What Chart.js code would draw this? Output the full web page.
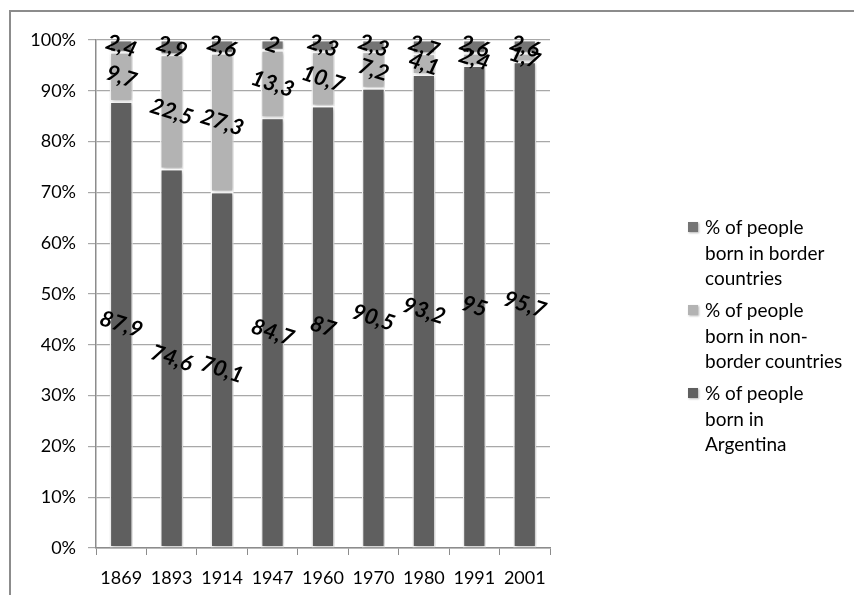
<!DOCTYPE html>
<html>
<head>
<meta charset="utf-8">
<script src="https://cdn.jsdelivr.net/npm/chart.js@4/dist/chart.umd.min.js"></script>
<style>
  body { margin: 0; background: #fff; overflow: hidden; font-family: Lato, "Open Sans", sans-serif; }
  #wrap { position: relative; width: 854px; height: 595px; }
  #frame { position: absolute; left: 9px; top: 10px; width: 900px; height: 700px; border: 2px solid #8c8c8c; }
  #chart { position: absolute; left: 0; top: 0; }
  #legend { position: absolute; left: 688px; top: 214px; font-size: 19px; color: #000; }
  .item { position: relative; padding-left: 17px; line-height: 25.5px; margin-bottom: 6.5px; white-space: nowrap; }
  .sw { position: absolute; left: 0; top: 8px; width: 10px; height: 10px; box-shadow: 1px 1px 2px rgba(0,0,0,0.3); }
</style>
</head>
<body>
<div id="wrap">
  <div id="frame"></div>
  <canvas id="chart" width="854" height="595"></canvas>
  <div id="legend"></div>
</div>
<script>
// 数据
var years = ['1869', '1893', '1914', '1947', '1960', '1970', '1980', '1991', '2001'];
var bornArgentina = [87.9, 74.6, 70.1, 84.7, 87, 90.5, 93.2, 95, 95.7];
var bornNonBorder = [9.7, 22.5, 27.3, 13.3, 10.7, 7.2, 4.1, 2.4, 1.7];
var bornBorder = [2.4, 2.9, 2.6, 2, 2.3, 2.3, 2.7, 2.6, 2.6];

var seriesNames = [
    ['% of people', 'born in border', 'countries'],
    ['% of people', 'born in non-', 'border countries'],
    ['% of people', 'born in', 'Argentina']
];
var colArgentina = '#5f5f5f';
var colNonBorder = '#b3b3b3';
var colBorder = '#747474';

// 柱子阴影
var barShadow = {
    id: 'barShadow',
    beforeDatasetsDraw: function(chart) {
        var ctx = chart.ctx;
        ctx.save();
        ctx.shadowColor = 'rgba(0,0,0,0.28)';
        ctx.shadowBlur = 4;
        ctx.shadowOffsetX = 1;
        ctx.shadowOffsetY = 1;
    },
    afterDatasetsDraw: function(chart) {
        chart.ctx.restore();
    }
};

// 数据标签 (倾斜)
var valueLabels = {
    id: 'valueLabels',
    afterDraw: function(chart) {
        var ctx = chart.ctx;
        ctx.save();
        ctx.font = 'italic bold 22px Lato, sans-serif';
        ctx.fillStyle = '#000';
        ctx.textAlign = 'center';
        ctx.textBaseline = 'middle';
        chart.data.datasets.forEach(function(ds, i) {
            var meta = chart.getDatasetMeta(i);
            meta.data.forEach(function(el, j) {
                var p = el.getProps(['x', 'y', 'base'], true);
                var cy = (p.y + p.base) / 2;
                ctx.save();
                ctx.translate(p.x, cy);
                ctx.rotate(18 * Math.PI / 180);
                ctx.fillText(String(ds.data[j]).replace('.', ','), 0, 0);
                ctx.restore();
            });
        });
        ctx.restore();
    }
};

var chart = new Chart(document.getElementById('chart').getContext('2d'), {
    type: 'bar',
    data: {
        labels: years,
        datasets: [
            { label: seriesNames[2].join(' '), data: bornArgentina, backgroundColor: colArgentina },
            { label: seriesNames[1].join(' '), data: bornNonBorder, backgroundColor: colNonBorder },
            { label: seriesNames[0].join(' '), data: bornBorder, backgroundColor: colBorder }
        ]
    },
    options: {
        responsive: false,
        animation: false,
        layout: { padding: { left: 0, right: 304, top: 40, bottom: 4 } },
        datasets: {
            bar: { barPercentage: 0.46, categoryPercentage: 1, borderColor: '#fff', borderWidth: 1.5, borderSkipped: false }
        },
        plugins: {
            legend: { display: false },
            tooltip: { enabled: false }
        },
        scales: {
            x: {
                stacked: true,
                grid: { offset: true, drawOnChartArea: false, drawTicks: true, tickLength: 7, color: '#8c8c8c' },
                border: { color: '#8c8c8c', width: 1.5 },
                ticks: { color: '#000', font: { family: 'Lato', size: 18 }, padding: 12 },
                afterFit: function(s) { s.height = 43; }
            },
            y: {
                stacked: true,
                min: 0,
                max: 100,
                ticks: { stepSize: 10, color: '#000', font: { family: 'Lato', size: 18 }, padding: 12,
                    callback: function(v) { return v + '%'; } },
                grid: { color: '#a8a8a8', tickLength: 8, lineWidth: 1.2 },
                border: { color: '#8c8c8c', width: 1.5 },
                afterFit: function(s) { s.width = 96; }
            }
        }
    },
    plugins: [barShadow, valueLabels]
});

// 图例
var legendColors = [colBorder, colNonBorder, colArgentina];
var legendDiv = document.getElementById('legend');
seriesNames.forEach(function(lines, i) {
    var item = document.createElement('div');
    item.className = 'item';
    var sw = document.createElement('span');
    sw.className = 'sw';
    sw.style.background = legendColors[i];
    item.appendChild(sw);
    lines.forEach(function(t, k) {
        if (k > 0) item.appendChild(document.createElement('br'));
        item.appendChild(document.createTextNode(t));
    });
    legendDiv.appendChild(item);
});
</script>
</body>
</html>
